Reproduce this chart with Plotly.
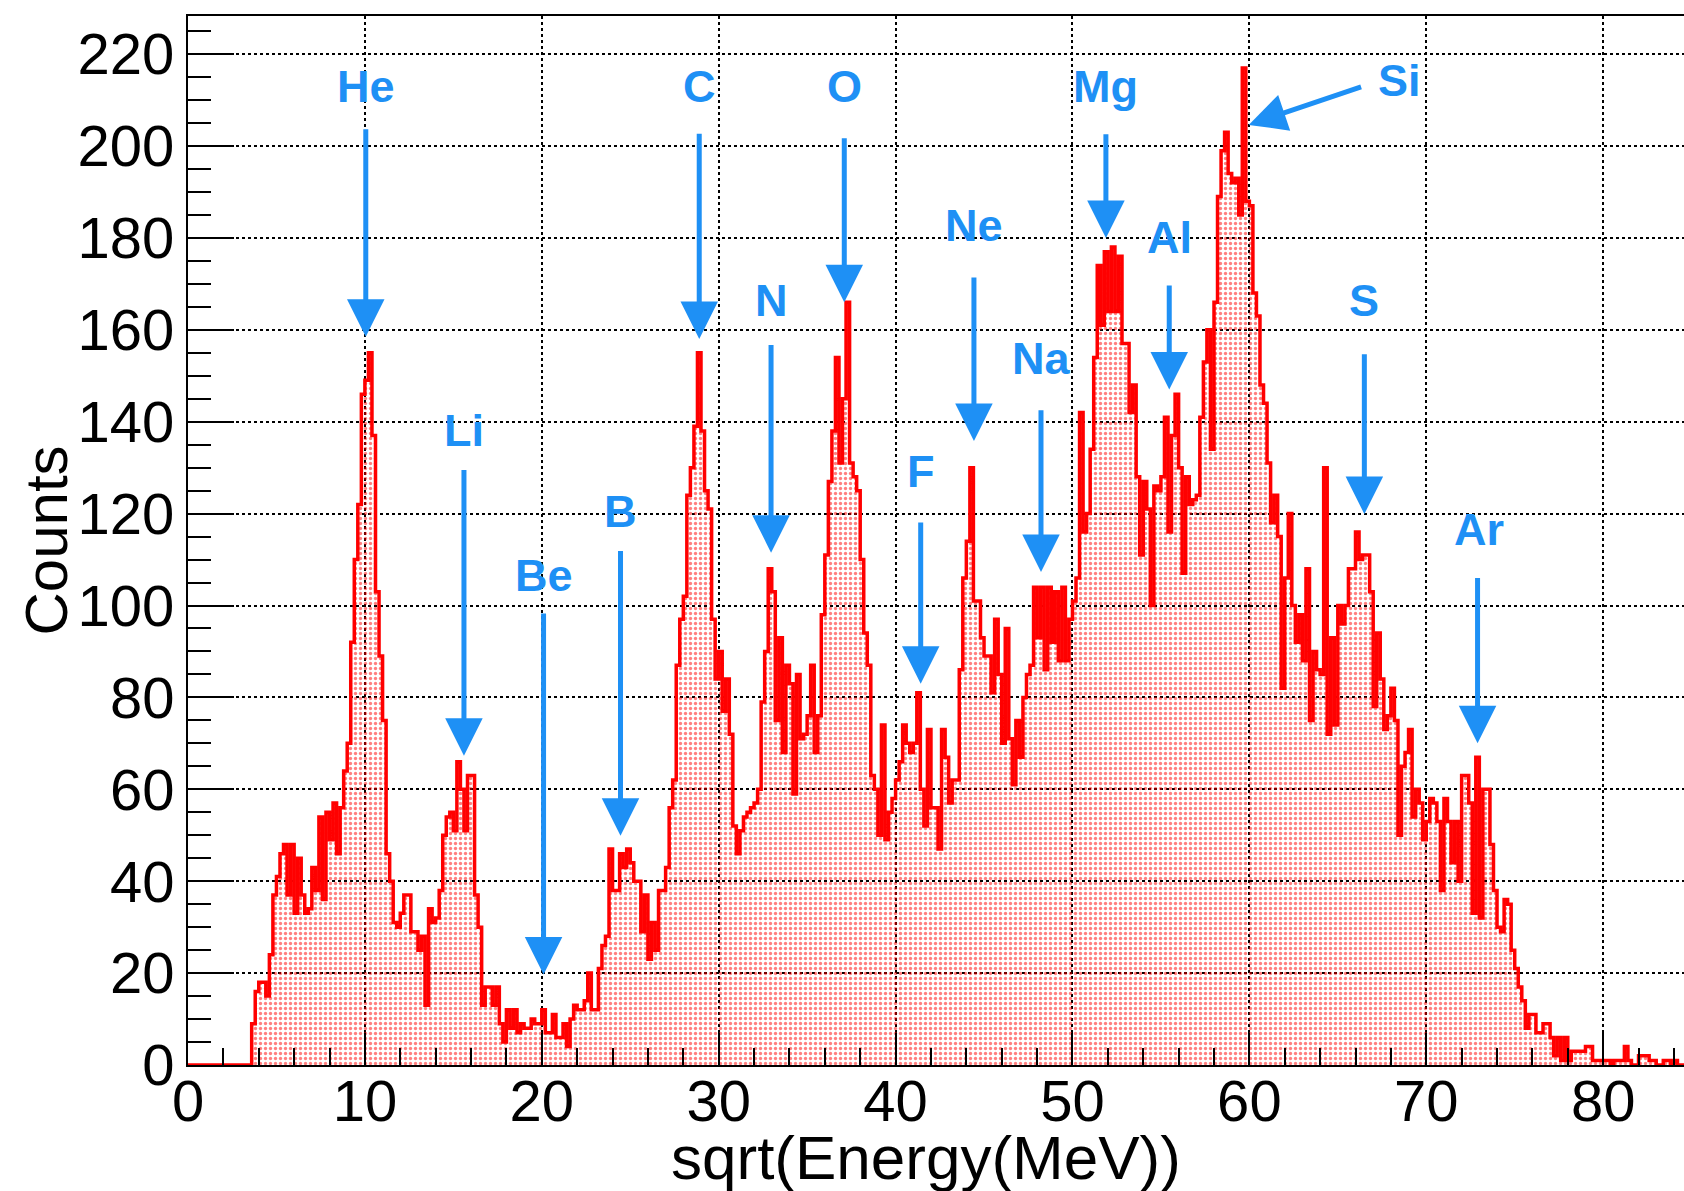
import numpy as np
import plotly.graph_objects as go

# ---------------- data (counts per 0.2-wide bin, starting at x = 0) ----------------
bin_width = 0.2
x_min = 0.0

counts_00_10 = [0, 0, 0, 0, 0,   0, 0, 0, 0, 0,   0, 0, 0, 0, 0,   0, 0, 0, 9, 16,
                18, 18, 15, 24, 37,   41, 46, 48, 37, 48,   33, 45, 37, 33, 34,   43, 38, 54, 36, 55,
                49, 57, 46, 56, 64,   70, 92, 110, 122, 146]
counts_10_20 = [149, 155, 137, 103, 89,   75, 46, 40, 31, 30,   33, 37, 37, 29, 29,   25, 28, 13, 34, 31,
                32, 38, 50, 54, 55,   51, 66, 60, 51, 63,   63, 37, 30, 13, 17,   17, 13, 17, 9, 5,
                12, 8, 12, 7, 9,   8, 8, 10, 9, 9]
counts_20_30 = [12, 7, 7, 11, 6,   6, 9, 4, 10, 13,   12, 12, 14, 20, 12,   12, 21, 26, 28, 47,
                38, 38, 46, 43, 47,   44, 40, 40, 29, 37,   23, 31, 25, 38, 38,   43, 56, 62, 87, 97,
                102, 124, 130, 139, 155,   138, 125, 121, 97, 84]
counts_30_40 = [90, 77, 84, 72, 52,   46, 51, 54, 55, 56,   57, 60, 79, 90, 108,   103, 75, 93, 68, 87,
                83, 59, 85, 71, 72,   76, 87, 68, 76, 98,   111, 127, 138, 154, 131,   145, 166, 131, 128, 125,
                110, 94, 87, 63, 60,   50, 74, 49, 55, 58]
counts_40_50 = [62, 66, 74, 70, 68,   70, 81, 60, 52, 73,   56, 56, 47, 73, 67,   57, 62, 62, 86, 106,
                114, 130, 101, 101, 93,   89, 89, 81, 97, 85,   70, 95, 71, 61, 75,   67, 80, 85, 87, 104,
                93, 104, 86, 104, 92,   103, 88, 104, 88, 97]
counts_50_60 = [101, 106, 142, 116, 120,   134, 154, 174, 161, 177,   164, 178, 164, 176, 157,   157, 142, 148, 128, 111,
                127, 121, 100, 126, 125,   128, 141, 116, 137, 146,   130, 107, 128, 122, 123,   124, 141, 153, 160, 134,
                166, 189, 199, 203, 194,   192, 193, 185, 217, 188]
counts_60_70 = [187, 168, 163, 148, 144,   131, 118, 124, 115, 82,   106, 120, 100, 92, 98,   88, 108, 75, 90, 86,
                85, 130, 72, 93, 74,   100, 96, 100, 108, 108,   116, 110, 111, 111, 103,   78, 94, 84, 73, 76,
                82, 75, 50, 65, 68,   73, 54, 60, 57, 49]
counts_70_85 = [53, 58, 57, 53, 38,   58, 53, 44, 53, 40,   63, 63, 57, 33, 67,   32, 60, 60, 48, 38,
                30, 29, 36, 35, 25,   21, 17, 14, 8, 11,   11, 7, 7, 9, 9,   6, 2, 6, 1, 6,
                1, 3, 3, 3, 3,   4, 4, 1, 1, 1,   1, 1, 0, 1, 1,   1, 4, 1, 0, 0,
                2, 2, 2, 1, 1,   0, 0, 1, 1, 0,   1, 0, 0]

# element labels and their arrows
labels = ["He", "Li", "Be", "B", "C", "N", "O", "F", "Ne", "Na", "Mg", "Al", "Si", "S", "Ar"]
label_x = [10.05, 15.6, 20.1, 24.45, 28.9, 32.96, 37.1, 41.42, 44.43, 48.22, 51.89, 55.47, 68.5, 66.5, 73.0]
label_y = [213, 138, 106.6, 120.4, 213, 166.3, 213, 129.2, 182.7, 153.8, 212.9, 180, 214.3, 166.4, 116.6]
arrow_tail_x = [10.05, 15.6, 20.1, 24.45, 28.9, 32.96, 37.1, 41.42, 44.43, 48.22, 51.89, 55.47, 66.4, 66.5, 72.9]
arrow_tail_y = [204, 129.8, 98.6, 112.2, 203, 157, 202, 118.4, 171.7, 142.8, 202.9, 170, 213, 155, 106.3]
arrow_tip_x = [10.05, 15.6, 20.1, 24.45, 28.9, 32.96, 37.1, 41.42, 44.43, 48.22, 51.89, 55.47, 59.96, 66.5, 72.9]
arrow_tip_y = [158.5, 67.3, 19.7, 49.9, 158, 111.5, 166, 83, 135.8, 107.3, 180, 147, 204.6, 119.9, 70]

x_title = "sqrt(Energy(MeV))"
y_title = "Counts"
x_range = [0, 84.57]
y_range = [0, 228.3]

# ---------------- figure ----------------
counts = (counts_00_10 + counts_10_20 + counts_20_30 + counts_30_40 +
          counts_40_50 + counts_50_60 + counts_60_70 + counts_70_85)
edges = x_min + bin_width * np.arange(len(counts) + 1)
y_step = counts + [counts[-1]]

BLUE = "#1e90f5"
FONT = "Liberation Sans, Arial, Helvetica, sans-serif"

fig = go.Figure()
fig.add_trace(go.Scatter(
    x=edges, y=y_step, mode="lines",
    line=dict(color="#ff0000", width=3.5, shape="hv"),
    fill="tozeroy",
    fillpattern=dict(shape=".", fgcolor="#ff0000", bgcolor="rgba(0,0,0,0)", size=5, solidity=0.35),
    hoverinfo="skip", showlegend=False,
))

annotations = []
for i, lab in enumerate(labels):
    annotations.append(dict(
        x=arrow_tip_x[i], y=arrow_tip_y[i], ax=arrow_tail_x[i], ay=arrow_tail_y[i],
        xref="x", yref="y", axref="x", ayref="y", text="",
        showarrow=True, arrowhead=2, arrowsize=1.5, arrowwidth=5, arrowcolor=BLUE, standoff=0,
    ))
    annotations.append(dict(
        x=label_x[i], y=label_y[i], xref="x", yref="y", text="<b>%s</b>" % lab,
        showarrow=False, font=dict(family=FONT, size=45, color=BLUE),
        xanchor="center", yanchor="middle",
    ))

# axis titles placed as text relative to the plot frame
annotations.append(dict(
    x=0.493, y=0, xref="paper", yref="paper", yshift=-92,
    text=x_title, showarrow=False, xanchor="center", yanchor="middle",
    font=dict(family=FONT, size=62, color="black"),
))
annotations.append(dict(
    x=0, y=0.5, xref="paper", yref="paper", xshift=-142,
    text=y_title, showarrow=False, textangle=-90, xanchor="center", yanchor="middle",
    font=dict(family=FONT, size=60, color="black"),
))

fig.update_layout(
    width=1684, height=1191,
    margin=dict(l=188, r=0, t=16, b=126, autoexpand=False),
    paper_bgcolor="white", plot_bgcolor="white",
    font=dict(family=FONT, color="black"),
    annotations=annotations,
    xaxis=dict(
        range=x_range, showline=True, linecolor="black", linewidth=2, mirror=True,
        ticks="inside", ticklen=32, tickwidth=2, tickcolor="black", tick0=0, dtick=10,
        showgrid=True, gridcolor="black", griddash="dot", gridwidth=1.5, zeroline=False,
        tickfont=dict(size=58, family=FONT, color="black"), automargin=False,
        ticklabelstandoff=-16,
        minor=dict(dtick=2, ticks="inside", ticklen=17, tickwidth=2, tickcolor="black", showgrid=False),
    ),
    yaxis=dict(
        range=y_range, showline=True, linecolor="black", linewidth=2, mirror=False,
        ticks="inside", ticklen=46, tickwidth=2, tickcolor="black", tick0=0, dtick=20,
        showgrid=True, gridcolor="black", griddash="dot", gridwidth=1.5, zeroline=False,
        tickfont=dict(size=58, family=FONT, color="black"), automargin=False,
        minor=dict(dtick=5, ticks="inside", ticklen=23, tickwidth=2, tickcolor="black", showgrid=False),
    ),
)

fig.write_html("out.html")
